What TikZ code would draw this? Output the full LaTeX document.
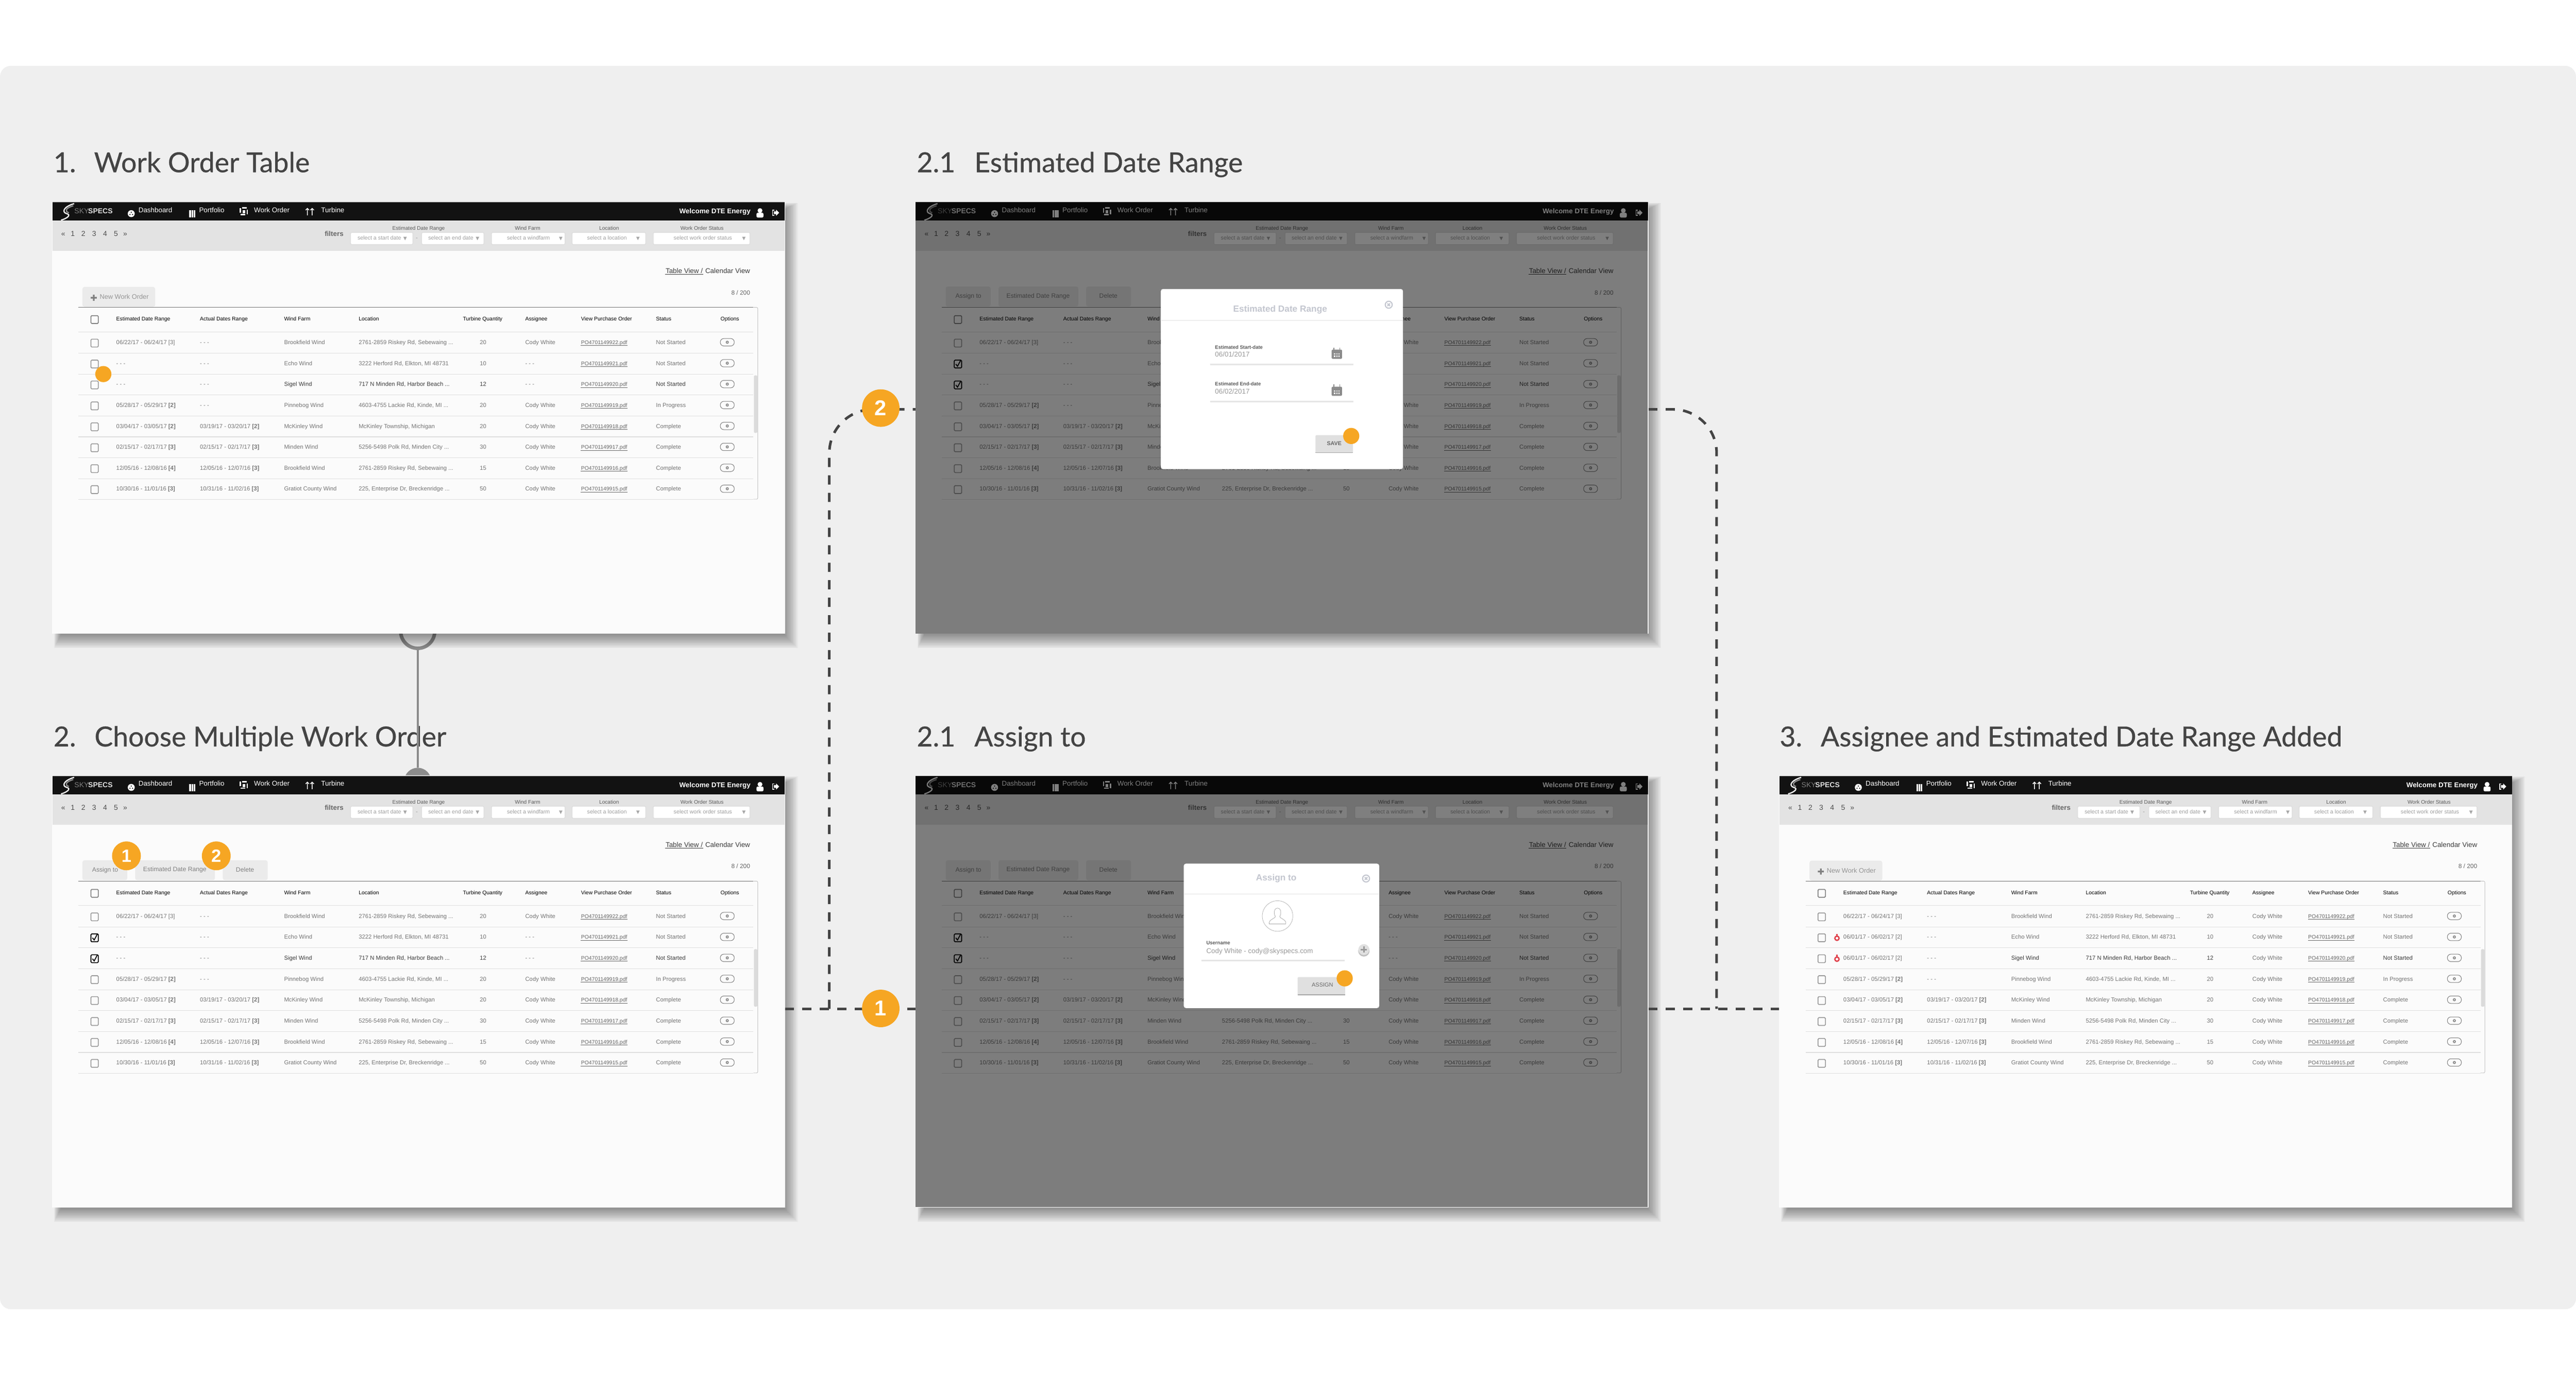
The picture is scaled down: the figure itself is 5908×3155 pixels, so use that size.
\documentclass[tikz,border=0pt]{standalone}
\usepackage{fontspec}
\setmainfont{Liberation Sans}
\newfontfamily\titlefont[FakeBold=0.5]{Lato}
\newcommand{\fsz}[1]{\fontsize{#1pt}{#1pt}\selectfont}
\definecolor{panelgray}{HTML}{EFEFEF}
\definecolor{screenbg}{HTML}{FBFBFB}
\definecolor{headblack}{HTML}{121212}
\definecolor{filtergray}{HTML}{E3E3E3}
\definecolor{bodygray}{HTML}{757575}
\definecolor{rowdark}{HTML}{3C3C3C}
\definecolor{linegray}{HTML}{DEDEDE}
\definecolor{markorange}{HTML}{F6A623}
\definecolor{modaltitle}{HTML}{C3C6CF}
\definecolor{flowdark}{HTML}{444444}
\definecolor{gearcol}{HTML}{8C8C8C}
\definecolor{redmark}{HTML}{E0404A}
\tikzset{
	pagetitle/.style={anchor=west,inner sep=0,text height=.58cm,text depth=.12cm,font=\titlefont\fsz{18},text=flowdark},
	screenbox/.style={rectangle,inner sep=0,outer sep=0,minimum width=16.8cm,minimum height=9.9cm,fill=screenbg},
	cell/.style={anchor=west,inner sep=0,text height=.09cm,text depth=.03cm,font=\fsz{3.8},text=bodygray},
	headcell/.style={cell,font=\fsz{3.5},text=black},
	navcell/.style={cell,font=\fsz{4.5},text=white},
	midcell/.style={cell,anchor=center},
	selbox/.style={draw=linegray,fill=white,rounded corners=.03cm,line width=.5pt},
	tabbox/.style={fill=black!8,rounded corners=.05cm},
	checkbox/.style={rectangle,draw=black!40,line width=.55pt,rounded corners=.02cm,inner sep=0,minimum width=.17cm,minimum height=.18cm},
	optpill/.style={rectangle,draw=black!50,line width=.35pt,rounded corners=.08cm,inner sep=0,minimum width=.32cm,minimum height=.17cm},
	markdot/.style={circle,fill=markorange,inner sep=0,minimum size=.37cm},
	markbig/.style={circle,fill=markorange,inner sep=0,minimum size=.86cm,text=white,font=\bfseries\fsz{14}},
	marksmall/.style={circle,fill=markorange,inner sep=0,minimum size=.66cm,text=white,font=\bfseries\fsz{11.6}},
	flowline/.style={draw=flowdark,line width=1.7pt,dash pattern=on 6pt off 5.4pt},
	modalbox/.style={rectangle,fill=white,rounded corners=.05cm,inner sep=0},
	modalhead/.style={inner sep=0,font=\bfseries\fsz{5.8},text=modaltitle},
	fieldlabel/.style={cell,font=\bfseries\fsz{3.2},text=black!65},
	fieldvalue/.style={cell,font=\fsz{4.5},text=black!40},
	fieldline/.style={draw=black!10,line width=.9pt},
	modalbtn/.style={fill=black!12,rounded corners=.02cm},
	closeicon/.style={circle,draw=modaltitle,line width=.7pt,inner sep=0,minimum size=.16cm},
}
\newcommand{\screenshadow}[2]{
	\foreach \s in {1,...,16}
		\fill[black,opacity=.028] ({#1+20-\s},{#2+18-\s}) rectangle ({#1+1680+2*\s-2},{#2+990+2*\s+2});
}
\newcommand{\screenbody}[1]{
	\node[screenbox] (#1) at (840,495) {};
	\fill[filtergray] (0,43) rectangle (1680,113);
	\fill[headblack] (0,0) rectangle (1680,43);
	\fill[black!55] (0,0) rectangle (1680,1);
	\draw[white!95!black,line width=.8pt] (50,4) .. controls (24,12) and (22,24) .. (33,27) .. controls (44,30) and (34,38) .. (20,42);
	\draw[black!45,line width=.8pt] (48,9) .. controls (30,14) and (28,22) .. (38,25);
	\node[navcell,font=\fsz{4.7},text=black!50] (#1sky) at (50,24) {SKY};
	\node[navcell,font=\bfseries\fsz{4.7},text=black!12,anchor=east] (#1specs) at (139,24) {SPECS};
	\fill[white] (181,27) circle (8);
	\fill[headblack] (178,29) circle (1.5) (184,29) circle (1.5) (181,24) circle (1.5);
	\foreach \x in {314,319,324}
		\fill[white] (\x,19) rectangle ({\x+4},36);
	\draw[white,line width=.8pt,dash pattern=on 3pt off 1.5pt] (431,14) rectangle (447,29);
	\fill[white] (436,19) rectangle (442,26);
	\foreach \x in {585,596}
		\draw[white,line width=.5pt] (\x,15) -- (\x,31) (\x-4,19) -- (\x,15) -- (\x+4,19);
	\node[navcell] (#1dash) at (197,21) {Dashboard};
	\node[navcell] (#1port) at (336,21) {Portfolio};
	\node[navcell] (#1work) at (462,21) {Work Order};
	\node[navcell] (#1turb) at (616,21) {Turbine};
	\node[navcell,font=\bfseries\fsz{4.5},anchor=east] (#1welc) at (1602,24) {Welcome DTE Energy};
	\fill[white] (1623,20) circle (5.5);
	\fill[white,rounded corners=.03cm] (1615,25) rectangle (1631,36);
	\draw[white,line width=.5pt] (1656,19) -- (1652,19) -- (1652,31) -- (1656,31);
	\fill[white] (1655,22) -- (1660,22) -- (1660,18) -- (1667,25) -- (1660,32) -- (1660,28) -- (1655,28) -- cycle;
	\foreach \x/\t [count=\k] in {25/«,47/1,71/2,96/3,121/4,146/5,167/»}
		\node[midcell,font=\fsz{4.7},text=black!70] (#1page\k) at (\x,76) {\t};
	\node[cell,font=\bfseries\fsz{4.5},text=black!60] (#1filt) at (624,76) {filters};
	\foreach \a/\b/\tx/\ar/\t [count=\k] in {684/827/750/809/select a start date,847/990/914/975/select an end date,1007/1176/1092/1166/select a windfarm,1192/1361/1272/1343/select a location,1378/1600/1492/1586/select work order status}{
		\draw[selbox] (\a,70) rectangle (\b,98);
		\node[midcell,font=\fsz{3.6},text=black!38] (#1sel\k) at (\tx,84) {\t};
		\fill[black!35] (\ar-4,80) -- (\ar+4,80) -- (\ar,88) -- cycle;
	}
	\node[midcell,text=black!40] (#1minus) at (836,84) {-};
	\foreach \x/\t [count=\k] in {840/Estimated Date Range,1090/Wind Farm,1277/Location,1490/Work Order Status}
		\node[midcell,font=\fsz{3.4},text=black!65] (#1lab\k) at (\x,62) {\t};
	\node[cell,font=\fsz{4.5},text=rowdark,anchor=east] (#1cal) at (1601,161) {Calendar View};
	\node[cell,font=\fsz{4.5},text=rowdark] (#1tab) at (1406,161) {Table View /};
	\draw[rowdark,line width=.3pt] ($(#1tab.south west)+(0,-1)$) -- ($(#1tab.south east)+(0,-1)$);
	\node[cell,font=\fsz{4},text=black!60,anchor=east] (#1count) at (1601,210) {8 / 200};
	\draw[black!55,line width=.4pt] (60,242) -- (1608,242);
	\draw[black!25,rounded corners=.03cm,line width=.3pt] (1608,242) -- (1618,242) -- (1618,682) -- (1608,682);
	\fill[black!14,rounded corners=.03cm] (1609,398) rectangle (1617,530);
	\foreach \y in {298,347,395,443,491,539,587,635,683}
		\draw[linegray,line width=.35pt] (60,\y) -- (1608,\y);
	\node[checkbox,draw=black!50] (#1ck) at (97,270) {};
	\foreach \x/\t [count=\k] in {146/Estimated Date Range,338/Actual Dates Range,531/Wind Farm,702/Location,941/Turbine Quantity,1084/Assignee,1212/View Purchase Order,1384/Status,1532/Options}
		\node[headcell] (#1h\k) at (\x,270) {\t};
	\foreach \i/\est/\act/\farm/\loc/\qty/\who/\po/\st in {
		1/{06/22/17 - 06/24/17 [3]}/- - -/Brookfield Wind/{2761-2859 Riskey Rd, Sebewaing ...}/20/Cody White/922/Not Started,
		2/{\echodate}/- - -/Echo Wind/{3222 Herford Rd, Elkton, MI 48731}/10/{\echowho}/921/Not Started,
		3/{\echodate}/- - -/Sigel Wind/{717 N Minden Rd, Harbor Beach ...}/12/{\echowho}/920/Not Started,
		4/{05/28/17 - 05/29/17 \textbf{[2]}}/- - -/Pinnebog Wind/{4603-4755 Lackie Rd, Kinde, MI ...}/20/Cody White/919/In Progress,
		5/{03/04/17 - 03/05/17 \textbf{[2]}}/{03/19/17 - 03/20/17 \textbf{[2]}}/McKinley Wind/{McKinley Township, Michigan}/20/Cody White/918/Complete,
		6/{02/15/17 - 02/17/17 \textbf{[3]}}/{02/15/17 - 02/17/17 \textbf{[3]}}/Minden Wind/{5256-5498 Polk Rd, Minden City ...}/30/Cody White/917/Complete,
		7/{12/05/16 - 12/08/16 \textbf{[4]}}/{12/05/16 - 12/07/16 \textbf{[3]}}/Brookfield Wind/{2761-2859 Riskey Rd, Sebewaing ...}/15/Cody White/916/Complete,
		8/{10/30/16 - 11/01/16 \textbf{[3]}}/{10/31/16 - 11/02/16 \textbf{[3]}}/Gratiot County Wind/{225, Enterprise Dr, Breckenridge ...}/50/Cody White/915/Complete}{
		\pgfmathtruncatemacro{\ry}{324+48*(\i-1)}
		\ifnum\i=3 \def\rowtext{rowdark}\else\def\rowtext{bodygray}\fi
		\node[checkbox] (#1c\i) at (97,\ry) {};
		\node[cell] (#1e\i) at (146,\ry) {\est};
		\node[cell] (#1a\i) at (338,\ry) {\act};
		\node[cell,text=\rowtext] (#1f\i) at (531,\ry) {\farm};
		\node[cell,text=\rowtext] (#1l\i) at (702,\ry) {\loc};
		\node[midcell,text=\rowtext] (#1q\i) at (988,\ry) {\qty};
		\node[cell] (#1w\i) at (1084,\ry) {\who};
		\node[cell,font=\fsz{3.5},text=black!60] (#1p\i) at (1212,\ry) {PO4701149\po.pdf};
		\draw[black!60,line width=.3pt] ($(#1p\i.south west)+(0,-1)$) -- ($(#1p\i.south east)+(0,-1)$);
		\node[cell,text=\rowtext] (#1s\i) at (1384,\ry) {\st};
		\node[optpill] (#1o\i) at (1548,\ry-2) {};
		\fill[gearcol] (#1o\i) circle (3.6);
		\fill[screenbg] (#1o\i) circle (1.3);
	}
}
\newcommand{\newworkbutton}[1]{
	\fill[tabbox] (69,195) rectangle (236,241);
	\fill[black!50] (88,218) rectangle (102,222) (93,213) rectangle (97,227);
	\node[cell,font=\fsz{4.3},text=black!42] (#1new) at (108,220) {New Work Order};
}
\newcommand{\selectbuttons}[1]{
	\fill[tabbox] (69,194) rectangle (172,240);
	\fill[tabbox] (190,194) rectangle (373,240);
	\fill[tabbox] (391,194) rectangle (494,240);
	\node[midcell,font=\fsz{4.1},text=black!50] (#1assign) at (121,218) {Assign to};
	\node[midcell,font=\fsz{4.1},text=black!50] (#1range) at (281,217) {Estimated Date Range};
	\node[midcell,font=\fsz{4.1},text=black!50] (#1del) at (442,218) {Delete};
	\foreach \r in {2,3}{
		\node[checkbox,draw=black] (#1t\r) at (#1c\r) {};
		\draw[black,line width=.6pt] ($(#1t\r)+(-5,0)$) -- ($(#1t\r)+(-1,5)$) -- ($(#1t\r)+(6,-8)$);
	}
}
\newcommand{\calicon}[2]{
	\fill[black!45,rounded corners=.02cm] (#1-12,#2-9) rectangle (#1+12,#2+12);
	\draw[black!45,line width=.5pt] (#1-7,#2-14) -- (#1-7,#2-8) (#1+7,#2-14) -- (#1+7,#2-8);
	\foreach \cx in {-5,0,5}
		\foreach \cy in {1,6}
			\fill[white] (#1+\cx-1.5,#2+\cy-1.5) rectangle (#1+\cx+1.5,#2+\cy+1.5);
}
\usetikzlibrary{calc}
\begin{document}
\begin{tikzpicture}[x=.01cm,y=-.01cm]
	\useasboundingbox (0,0) rectangle (5908,3155);
	\fill[white] (0,0) rectangle (5908,3155);
	\fill[panelgray,rounded corners=.25cm] (0,151) rectangle (5908,3003);
	\node[pagetitle] (numa) at (122,372) {1.};
	\node[pagetitle] (titlea) at (215,372) {Work Order Table};
	\node[pagetitle] (numb) at (122,1689) {2.};
	\node[pagetitle] (titleb) at (216,1689) {Choose Multiple Work Order};
	\node[pagetitle] (numc) at (2102,372) {2.1};
	\node[pagetitle] (titlec) at (2234,372) {Estimated Date Range};
	\node[pagetitle] (numd) at (2102,1689) {2.1};
	\node[pagetitle] (titled) at (2234,1689) {Assign to};
	\node[pagetitle] (nume) at (4081,1689) {3.};
	\node[pagetitle] (titlee) at (4175,1689) {Assignee and Estimated Date Range Added};
	\node[circle,draw=gearcol,line width=2.3pt,inner sep=0,minimum size=.78cm] (ringa) at (958,1448) {};
	\node[circle,fill=gearcol,inner sep=0,minimum size=.62cm] (discb) at (958,1792) {};
	\draw[gearcol,line width=1.4pt] (ringa.south) -- (discb.north);
	\screenshadow{120}{463}
	\screenshadow{120}{1779}
	\screenshadow{2100}{463}
	\screenshadow{2100}{1779}
	\screenshadow{4081}{1779}
	\coordinate (outb) at (1800,2314);
	\coordinate (splitb) at (1902,2314);
	\coordinate (bendc) at (1902,939);
	\coordinate (inc) at (2100,939);
	\coordinate (ind) at (2100,2314);
	\coordinate (outc) at (3780,939);
	\coordinate (bendo) at (3937,939);
	\coordinate (joine) at (3937,2314);
	\coordinate (outd) at (3780,2314);
	\coordinate (ine) at (4081,2314);
	\draw[flowline] (outb) -- (ind);
	\draw[flowline,rounded corners=1cm] (splitb) -- (bendc) -- (inc);
	\draw[flowline,rounded corners=1cm] (outc) -- (bendo) -- (joine);
	\draw[flowline] (outd) -- (ine);
	\node[markbig] (badgeb) at (2020,936) {2};
	\node[markbig] (badgea) at (2020,2313) {1};
	\def\echodate{- - -}
	\def\echowho{- - -}
	\begin{scope}[shift={(120,463)}]
		\screenbody{sa}
		\newworkbutton{sa}
		\node[markdot] (doa) at (117,395) {};
	\end{scope}
	\begin{scope}[shift={(120,1779)}]
		\screenbody{sb}
		\selectbuttons{sb}
		\node[marksmall] (oneb) at (170,184) {1};
		\node[marksmall] (twob) at (376,184) {2};
	\end{scope}
	\begin{scope}[shift={(2100,463)}]
		\screenbody{sc}
		\selectbuttons{sc}
		\fill[black,opacity=.5] (0,0) rectangle (1679,990);
	\end{scope}
	\begin{scope}[shift={(2100,1779)}]
		\screenbody{sd}
		\selectbuttons{sd}
		\fill[black,opacity=.5] (0,0) rectangle (1679,990);
	\end{scope}
	\begin{scope}[shift={(4081,1779)}]
		\def\echodate{06/01/17 - 06/02/17 [2]}
		\def\echowho{Cody White}
		\screenbody{se}
		\newworkbutton{se}
		\foreach \r in {372,420}{
			\fill[redmark] (132,\r+1) circle (6.5);
			\fill[redmark] (130,\r-9) rectangle (134,\r-5);
			\fill[white] (132,\r+1) circle (3);
		}
	\end{scope}
	\node[modalbox,minimum width=5.55cm,minimum height=4.13cm] (modalc) at (2940,869.5) {};
	\node[modalhead] (headc) at (2936,710) {Estimated Date Range};
	\draw[black!7,line width=.6pt] (2663,735) -- (3217,735);
	\node[closeicon] (closec) at (3185,699) {};
	\draw[modaltitle,line width=.7pt] ($(closec)+(-3,-3)$) -- ($(closec)+(3,3)$) ($(closec)+(-3,3)$) -- ($(closec)+(3,-3)$);
	\node[fieldlabel] (labstart) at (2786,797) {Estimated Start-date};
	\node[fieldvalue] (valstart) at (2786,815) {06/01/2017};
	\draw[fieldline] (2776,836) -- (3104,836);
	\calicon{3066}{811}
	\node[fieldlabel] (labend) at (2786,882) {Estimated End-date};
	\node[fieldvalue] (valend) at (2786,900) {06/02/2017};
	\draw[fieldline] (2776,921) -- (3104,921);
	\calicon{3066}{896}
	\fill[modalbtn] (3017,998) rectangle (3103,1039);
	\draw[black!35,line width=.6pt] (3017,1038) -- (3103,1038);
	\node[midcell,font=\bfseries\fsz{3.6},text=black!60] (savebtn) at (3060,1018) {SAVE};
	\node[markdot] (doc) at (3099,1000) {};
	\node[modalbox,minimum width=4.48cm,minimum height=3.31cm] (modald) at (2939,2146.5) {};
	\node[modalhead] (headd) at (2927,2015) {Assign to};
	\draw[black!12,line width=.35pt] (2716,2051) -- (3162,2051);
	\node[closeicon] (closed) at (3133,2015) {};
	\draw[modaltitle,line width=.7pt] ($(closed)+(-3,-3)$) -- ($(closed)+(3,3)$) ($(closed)+(-3,3)$) -- ($(closed)+(3,-3)$);
	\node[circle,draw=black!30,line width=.25pt,inner sep=0,minimum size=.7cm] (avatar) at (2930,2101) {};
	\draw[black!30,line width=.3pt] (2930,2083) .. controls (2921,2083) and (2921,2097) .. (2925,2102) .. controls (2926,2106) and (2912,2108) .. (2911,2116) -- (2911,2119) -- (2949,2119) -- (2949,2116) .. controls (2948,2108) and (2934,2106) .. (2935,2102) .. controls (2939,2097) and (2939,2083) .. (2930,2083);
	\node[fieldlabel] (labuser) at (2766,2164) {Username};
	\node[fieldvalue] (valuser) at (2766,2184) {Cody White - cody@skyspecs.com};
	\draw[fieldline] (2756,2203) -- (3084,2203);
	\fill[black!25] (3128,2181) circle (13);
	\node[circle,fill=black!12,inner sep=0,minimum size=.25cm] (addbtn) at (3128,2178) {};
	\draw[black!40,line width=1pt] ($(addbtn)+(-7,0)$) -- ($(addbtn)+(7,0)$) ($(addbtn)+(0,-7)$) -- ($(addbtn)+(0,7)$);
	\fill[modalbtn] (2976,2241) rectangle (3085,2283);
	\draw[black!35,line width=.6pt] (2976,2282) -- (3085,2282);
	\node[midcell,font=\fsz{3.7},text=black!60] (assignbtn) at (3033,2260) {ASSIGN};
	\node[markdot] (dod) at (3084,2244) {};
\end{tikzpicture}
\end{document}
